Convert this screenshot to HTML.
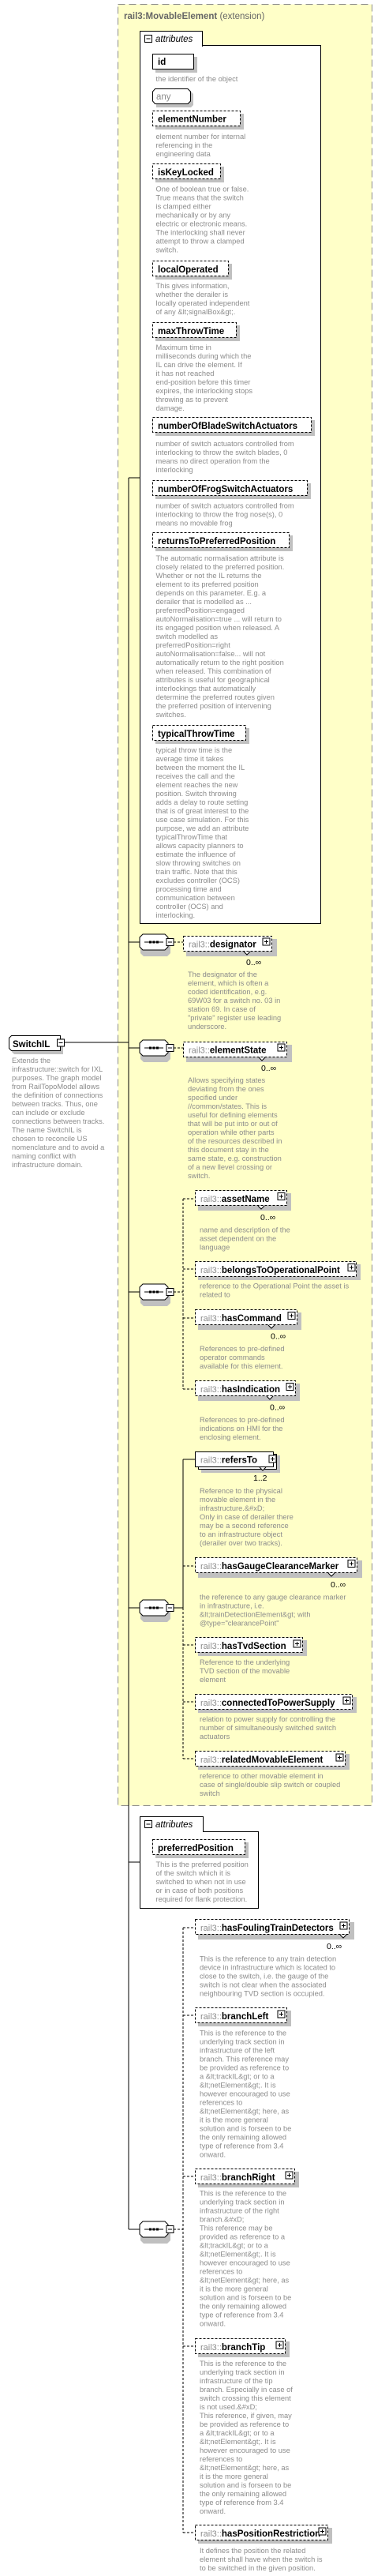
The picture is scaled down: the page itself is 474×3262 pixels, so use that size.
<!DOCTYPE html>
<html><head><meta charset="utf-8"><style>
html,body{margin:0;padding:0;background:#fff;}
svg{display:block;font-family:"Liberation Sans",sans-serif;}
.d{font-size:9.3px;fill:#8c8c8c;}
.n{font-size:11.5px;font-weight:bold;fill:#000;}
.p{font-size:11px;fill:#8c8c8c;}
.c{font-size:10.5px;fill:#000;}
</style></head><body>
<svg width="474" height="3262" viewBox="0 0 474 3262" xmlns="http://www.w3.org/2000/svg">
<defs>
<g id="plus"><rect x="0" y="0" width="9" height="9" fill="#fff" stroke="#000" stroke-width="1"/><path d="M2 4.5H7M4.5 2V7" stroke="#000" stroke-width="1"/></g>
<g id="minus"><rect x="0" y="0" width="9" height="9" fill="#fff" stroke="#000" stroke-width="1"/><path d="M2 4.5H7" stroke="#000" stroke-width="1"/></g>
<g id="seq"><polygon points="5,-6 35,-6 39,-2 39,14 35,18 5,18 1,14 1,-2" fill="#c0c0c0"/><polygon points="4,-10 32,-10 36,-6 36,6 32,10 4,10 0,6 0,-6" fill="#fff" stroke="#000"/><path d="M6 0H30" stroke="#000"/><rect x="12" y="-1.5" width="3" height="3"/><rect x="16.5" y="-1.5" width="3" height="3"/><rect x="21" y="-1.5" width="3" height="3"/></g>
</defs>

<rect x="149.5" y="5.5" width="322" height="2281" fill="#ffffc8" stroke="#8c8c8c" stroke-dasharray="9,5"/>
<text x="157" y="24" style="font-size:11.5px;font-weight:bold;fill:#666">rail3:MovableElement <tspan style="font-weight:normal">(extension)</tspan></text>

<path d="M80 1320H163M163 605V2823M163 605H178M163 1193H177M163 1327H177M163 1636H177M163 2036H177M163 2358H178M163 2823H177" stroke="#000" fill="none"/>

<rect x="177.5" y="57.5" width="229" height="1112" fill="#fff" stroke="#000"/>
<rect x="177.5" y="39.5" width="79" height="19" fill="#fff" stroke="#000"/>
<rect x="178" y="57" width="78" height="2" fill="#fff"/>
<use href="#minus" x="183.5" y="44.5"/>
<text x="197" y="53" style="font-size:11.5px;font-style:italic;fill:#000">attributes</text>

<rect x="197" y="72" width="53" height="20" fill="#c0c0c0"/>
<rect x="193.5" y="68.5" width="52" height="19" fill="#fff" stroke="#000"/>
<text x="200" y="82" class="n">id</text>
<text class="d" x="197.5" y="103">the identifier of the object</text>
<polygon points="198,116 242,116 245,119 245,133 242,136 198,136" fill="#c0c0c0"/>
<polygon points="196.5,112.5 238,112.5 241.5,116 241.5,128 238,131.5 196.5,131.5 193.5,128 193.5,116" fill="#fff" stroke="#000"/>
<text x="198" y="126" style="font-size:11.5px;fill:#8c8c8c">any</text>

<g>
<rect x="197" y="144" width="112" height="20" fill="#c0c0c0"/><rect x="193.5" y="140.5" width="111" height="19" fill="#fff" stroke="#000" stroke-dasharray="3,2"/><text x="200" y="154.5" class="n">elementNumber</text>
<text class="d" x="197.5" y="176"><tspan x="197.5">element number for internal</tspan><tspan x="197.5" dy="11">referencing in the</tspan><tspan x="197.5" dy="11">engineering data</tspan></text>

<rect x="197" y="211" width="87" height="20" fill="#c0c0c0"/><rect x="193.5" y="207.5" width="86" height="19" fill="#fff" stroke="#000" stroke-dasharray="3,2"/><text x="200" y="222" class="n">isKeyLocked</text>
<text class="d" x="197.5" y="242.5"><tspan x="197.5">One of boolean true or false.</tspan><tspan x="197.5" dy="11">True means that the switch</tspan><tspan x="197.5" dy="11">is clamped either</tspan><tspan x="197.5" dy="11">mechanically or by any</tspan><tspan x="197.5" dy="11">electric or electronic means.</tspan><tspan x="197.5" dy="11">The interlocking shall never</tspan><tspan x="197.5" dy="11">attempt to throw a clamped</tspan><tspan x="197.5" dy="11">switch.</tspan></text>

<rect x="197" y="334" width="97" height="20" fill="#c0c0c0"/><rect x="193.5" y="330.5" width="96" height="19" fill="#fff" stroke="#000" stroke-dasharray="3,2"/><text x="200" y="345" class="n">localOperated</text>
<text class="d" x="197.5" y="365"><tspan x="197.5">This gives information,</tspan><tspan x="197.5" dy="11">whether the derailer is</tspan><tspan x="197.5" dy="11">locally operated independent</tspan><tspan x="197.5" dy="11">of any &amp;lt;signalBox&amp;gt;.</tspan></text>

<rect x="197" y="412" width="107" height="20" fill="#c0c0c0"/><rect x="193.5" y="408.5" width="106" height="19" fill="#fff" stroke="#000" stroke-dasharray="3,2"/><text x="200" y="423" class="n">maxThrowTime</text>
<text class="d" x="197.5" y="443"><tspan x="197.5">Maximum time in</tspan><tspan x="197.5" dy="11">milliseconds during which the</tspan><tspan x="197.5" dy="11">IL can drive the element. If</tspan><tspan x="197.5" dy="11">it has not reached</tspan><tspan x="197.5" dy="11">end-position before this timer</tspan><tspan x="197.5" dy="11">expires, the interlocking stops</tspan><tspan x="197.5" dy="11">throwing as to prevent</tspan><tspan x="197.5" dy="11">damage.</tspan></text>

<rect x="197" y="532" width="202" height="20" fill="#c0c0c0"/><rect x="193.5" y="528.5" width="201" height="19" fill="#fff" stroke="#000" stroke-dasharray="3,2"/><text x="200" y="543" class="n">numberOfBladeSwitchActuators</text>
<text class="d" x="197.5" y="565"><tspan x="197.5">number of switch actuators controlled from</tspan><tspan x="197.5" dy="11">interlocking to throw the switch blades, 0</tspan><tspan x="197.5" dy="11">means no direct operation from the</tspan><tspan x="197.5" dy="11">interlocking</tspan></text>

<rect x="197" y="612" width="197" height="20" fill="#c0c0c0"/><rect x="193.5" y="608.5" width="196" height="19" fill="#fff" stroke="#000" stroke-dasharray="3,2"/><text x="200" y="623" class="n">numberOfFrogSwitchActuators</text>
<text class="d" x="197.5" y="643.5"><tspan x="197.5">number of switch actuators controlled from</tspan><tspan x="197.5" dy="11">interlocking to throw the frog nose(s), 0</tspan><tspan x="197.5" dy="11">means no movable frog</tspan></text>

<rect x="197" y="678" width="174" height="20" fill="#c0c0c0"/><rect x="193.5" y="674.5" width="173" height="19" fill="#fff" stroke="#000" stroke-dasharray="3,2"/><text x="200" y="689" class="n">returnsToPreferredPosition</text>
<text class="d" x="197.5" y="710"><tspan x="197.5">The automatic normalisation attribute is</tspan><tspan x="197.5" dy="11">closely related to the preferred position.</tspan><tspan x="197.5" dy="11">Whether or not the IL returns the</tspan><tspan x="197.5" dy="11">element to its preferred position</tspan><tspan x="197.5" dy="11">depends on this parameter. E.g. a</tspan><tspan x="197.5" dy="11">derailer that is modelled as ...</tspan><tspan x="197.5" dy="11">preferredPosition=engaged</tspan><tspan x="197.5" dy="11">autoNormalisation=true ... will return to</tspan><tspan x="197.5" dy="11">its engaged position when released. A</tspan><tspan x="197.5" dy="11">switch modelled as</tspan><tspan x="197.5" dy="11">preferredPosition=right</tspan><tspan x="197.5" dy="11">autoNormalisation=false... will not</tspan><tspan x="197.5" dy="11">automatically return to the right position</tspan><tspan x="197.5" dy="11">when released. This combination of</tspan><tspan x="197.5" dy="11">attributes is useful for geographical</tspan><tspan x="197.5" dy="11">interlockings that automatically</tspan><tspan x="197.5" dy="11">determine the preferred routes given</tspan><tspan x="197.5" dy="11">the preferred position of intervening</tspan><tspan x="197.5" dy="11">switches.</tspan></text>

<rect x="197" y="922" width="119" height="20" fill="#c0c0c0"/><rect x="193.5" y="918.5" width="118" height="19" fill="#fff" stroke="#000" stroke-dasharray="3,2"/><text x="200" y="933" class="n">typicalThrowTime</text>
<text class="d" x="197.5" y="953"><tspan x="197.5">typical throw time is the</tspan><tspan x="197.5" dy="11">average time it takes</tspan><tspan x="197.5" dy="11">between the moment the IL</tspan><tspan x="197.5" dy="11">receives the call and the</tspan><tspan x="197.5" dy="11">element reaches the new</tspan><tspan x="197.5" dy="11">position. Switch throwing</tspan><tspan x="197.5" dy="11">adds a delay to route setting</tspan><tspan x="197.5" dy="11">that is of great interest to the</tspan><tspan x="197.5" dy="11">use case simulation. For this</tspan><tspan x="197.5" dy="11">purpose, we add an attribute</tspan><tspan x="197.5" dy="11">typicalThrowTime that</tspan><tspan x="197.5" dy="11">allows capacity planners to</tspan><tspan x="197.5" dy="11">estimate the influence of</tspan><tspan x="197.5" dy="11">slow throwing switches on</tspan><tspan x="197.5" dy="11">train traffic. Note that this</tspan><tspan x="197.5" dy="11">excludes controller (OCS)</tspan><tspan x="197.5" dy="11">processing time and</tspan><tspan x="197.5" dy="11">communication between</tspan><tspan x="197.5" dy="11">controller (OCS) and</tspan><tspan x="197.5" dy="11">interlocking.</tspan></text>
</g>

<polygon points="18,1315 80,1315 80,1335 18,1335 15,1332 15,1318" fill="#c0c0c0"/>
<polygon points="14.5,1311.5 76.5,1311.5 76.5,1330.5 14.5,1330.5 11.5,1327.5 11.5,1314.5" fill="#fff" stroke="#000"/>
<text x="16" y="1326" class="n">SwitchIL</text>
<use href="#minus" x="72.5" y="1316"/>
<text class="d" x="15" y="1346"><tspan x="15">Extends the</tspan><tspan x="15" dy="11">infrastructure::switch for IXL</tspan><tspan x="15" dy="11">purposes. The graph model</tspan><tspan x="15" dy="11">from RailTopoModel allows</tspan><tspan x="15" dy="11">the definition of connections</tspan><tspan x="15" dy="11">between tracks. Thus, one</tspan><tspan x="15" dy="11">can include or exclude</tspan><tspan x="15" dy="11">connections between tracks.</tspan><tspan x="15" dy="11">The name SwitchIL is</tspan><tspan x="15" dy="11">chosen to reconcile US</tspan><tspan x="15" dy="11">nomenclature and to avoid a</tspan><tspan x="15" dy="11">naming conflict with</tspan><tspan x="15" dy="11">infrastructure domain.</tspan></text>

<use href="#seq" x="177" y="1193"/><use href="#minus" x="211" y="1188.5"/>
<use href="#seq" x="177" y="1327"/><use href="#minus" x="211" y="1322.5"/>
<use href="#seq" x="177" y="1636"/><use href="#minus" x="211" y="1631.5"/>
<use href="#seq" x="177" y="2036"/><use href="#minus" x="211" y="2031.5"/>
<use href="#seq" x="177" y="2823"/><use href="#minus" x="211" y="2818.5"/>

<g stroke="#000" fill="none" stroke-dasharray="3,2">
<path d="M220 1193H232M220 1327H232"/>
<path d="M220 1636H232M232 1518V1759M232 1518H247M232 1607H247M232 1669H247M232 1759H247"/>
<path d="M232 2036V2227M232 1983H247M232 2083H247M232 2155H247M232 2227H247"/>
<path d="M220 2823H232M232 2441V3207M232 2441H247M232 2552H247M232 2756H247M232 2971H247M232 3207H247"/>
</g>
<path d="M220 2036H232M232 1848V2036M232 1848H247" stroke="#000" fill="none"/>

<rect x="177.5" y="2319.5" width="150" height="97" fill="#fff" stroke="#000"/>
<rect x="177.5" y="2300.5" width="80" height="19" fill="#fff" stroke="#000"/>
<rect x="178" y="2319" width="79" height="2" fill="#fff"/>
<use href="#minus" x="183.5" y="2305.5"/>
<text x="197" y="2314" style="font-size:11.5px;font-style:italic;fill:#000">attributes</text>
<rect x="197" y="2333" width="118" height="20" fill="#c0c0c0"/><rect x="193.5" y="2329.5" width="117" height="19" fill="#fff" stroke="#000" stroke-dasharray="3,2"/><text x="200" y="2344" class="n">preferredPosition</text>
<text class="d" x="197.5" y="2364"><tspan x="197.5">This is the preferred position</tspan><tspan x="197.5" dy="11">of the switch which it is</tspan><tspan x="197.5" dy="11">switched to when not in use</tspan><tspan x="197.5" dy="11">or in case of both positions</tspan><tspan x="197.5" dy="11">required for flank protection.</tspan></text>

<g>
<rect x="236" y="1189" width="115" height="22" fill="#c0c0c0"/><rect x="232.5" y="1185.5" width="112" height="19" fill="#fff" stroke="#000" stroke-dasharray="3,2"/><path d="M309 1205l4 4 4-4" fill="#fff" stroke="#000"/><text x="239" y="1199.5"><tspan class="p">rail3::</tspan><tspan class="n">designator</tspan></text><use href="#plus" x="333" y="1188"/>
<text class="c" x="312" y="1222">0..∞</text>
<text class="d" x="238" y="1237"><tspan x="238">The designator of the</tspan><tspan x="238" dy="11">element, which is often a</tspan><tspan x="238" dy="11">coded identification, e.g.</tspan><tspan x="238" dy="11">69W03 for a switch no. 03 in</tspan><tspan x="238" dy="11">station 69. In case of</tspan><tspan x="238" dy="11">"private" register use leading</tspan><tspan x="238" dy="11">underscore.</tspan></text>
<rect x="236" y="1323" width="134" height="22" fill="#c0c0c0"/><rect x="232.5" y="1319.5" width="131" height="19" fill="#fff" stroke="#000" stroke-dasharray="3,2"/><path d="M328 1339l4 4 4-4" fill="#fff" stroke="#000"/><text x="239" y="1333.5"><tspan class="p">rail3::</tspan><tspan class="n">elementState</tspan></text><use href="#plus" x="352" y="1322"/>
<text class="c" x="331" y="1356">0..∞</text>
<text class="d" x="238" y="1371"><tspan x="238">Allows specifying states</tspan><tspan x="238" dy="11">deviating from the ones</tspan><tspan x="238" dy="11">specified under</tspan><tspan x="238" dy="11">//common/states. This is</tspan><tspan x="238" dy="11">useful for defining elements</tspan><tspan x="238" dy="11">that will be put into or out of</tspan><tspan x="238" dy="11">operation while other parts</tspan><tspan x="238" dy="11">of the resources described in</tspan><tspan x="238" dy="11">this document stay in the</tspan><tspan x="238" dy="11">same state, e.g. construction</tspan><tspan x="238" dy="11">of a new llevel crossing or</tspan><tspan x="238" dy="11">switch.</tspan></text>

<rect x="251" y="1511" width="118" height="22" fill="#c0c0c0"/><rect x="247.5" y="1507.5" width="116" height="19" fill="#fff" stroke="#000" stroke-dasharray="3,2"/><path d="M327 1527l4 4 4-4" fill="#fff" stroke="#000"/><text x="254" y="1522"><tspan class="p">rail3::</tspan><tspan class="n">assetName</tspan></text><use href="#plus" x="352" y="1510.5"/>
<text class="c" x="330" y="1545">0..∞</text>
<text class="d" x="253" y="1560.5"><tspan x="253">name and description of the</tspan><tspan x="253" dy="11">asset dependent on the</tspan><tspan x="253" dy="11">language</tspan></text>
<rect x="251" y="1601" width="206" height="20" fill="#c0c0c0"/><rect x="247.5" y="1597.5" width="204" height="19" fill="#fff" stroke="#000" stroke-dasharray="3,2"/><text x="254" y="1612"><tspan class="p">rail3::</tspan><tspan class="n">belongsToOperationalPoint</tspan></text><use href="#plus" x="441" y="1600.5"/>
<text class="d" x="253" y="1631.5"><tspan x="253">reference to the Operational Point the asset is</tspan><tspan x="253" dy="11">related to</tspan></text>
<rect x="251" y="1662" width="131" height="22" fill="#c0c0c0"/><rect x="247.5" y="1658.5" width="129" height="19" fill="#fff" stroke="#000" stroke-dasharray="3,2"/><path d="M340 1678l4 4 4-4" fill="#fff" stroke="#000"/><text x="254" y="1673"><tspan class="p">rail3::</tspan><tspan class="n">hasCommand</tspan></text><use href="#plus" x="365" y="1661.5"/>
<text class="c" x="343" y="1695.5">0..∞</text>
<text class="d" x="253" y="1711"><tspan x="253">References to pre-defined</tspan><tspan x="253" dy="11">operator commands</tspan><tspan x="253" dy="11">available for this element.</tspan></text>
<rect x="251" y="1752" width="129" height="22" fill="#c0c0c0"/><rect x="247.5" y="1748.5" width="127" height="19" fill="#fff" stroke="#000" stroke-dasharray="3,2"/><path d="M338 1768l4 4 4-4" fill="#fff" stroke="#000"/><text x="254" y="1763"><tspan class="p">rail3::</tspan><tspan class="n">hasIndication</tspan></text><use href="#plus" x="363" y="1751.5"/>
<text class="c" x="342" y="1785.5">0..∞</text>
<text class="d" x="253" y="1801"><tspan x="253">References to pre-defined</tspan><tspan x="253" dy="11">indications on HMI for the</tspan><tspan x="253" dy="11">enclosing element.</tspan></text>
<rect x="255" y="1843" width="100" height="22" fill="#c0c0c0"/><rect x="251.5" y="1841.5" width="99" height="19" fill="#fff" stroke="#000"/><rect x="247.5" y="1838.5" width="99" height="19" fill="#fff" stroke="#000"/><path d="M329 1858l4 4 4-4" fill="#fff" stroke="#000"/><text x="254" y="1852.5"><tspan class="p">rail3::</tspan><tspan class="n">refersTo</tspan></text><use href="#plus" x="341" y="1843"/>
<text class="c" x="321" y="1875">1..2</text>
<text class="d" x="253" y="1891"><tspan x="253">Reference to the physical</tspan><tspan x="253" dy="11">movable element in the</tspan><tspan x="253" dy="11">infrastructure.&amp;#xD;</tspan><tspan x="253" dy="11">Only in case of derailer there</tspan><tspan x="253" dy="11">may be a second reference</tspan><tspan x="253" dy="11">to an infrastructure object</tspan><tspan x="253" dy="11">(derailer over two tracks).</tspan></text>
<rect x="251" y="1976" width="208" height="22" fill="#c0c0c0"/><rect x="247.5" y="1972.5" width="205" height="19" fill="#fff" stroke="#000" stroke-dasharray="3,2"/><path d="M416 1992l4 4 4-4" fill="#fff" stroke="#000"/><text x="254" y="1987"><tspan class="p">rail3::</tspan><tspan class="n">hasGaugeClearanceMarker</tspan></text><use href="#plus" x="441" y="1975.5"/>
<text class="c" x="419" y="2010">0..∞</text>
<text class="d" x="253" y="2025.5"><tspan x="253">the reference to any gauge clearance marker</tspan><tspan x="253" dy="11">in infrastructure, i.e.</tspan><tspan x="253" dy="11">&amp;lt;trainDetectionElement&amp;gt; with</tspan><tspan x="253" dy="11">@type="clearancePoint"</tspan></text>
<rect x="251" y="2077" width="138" height="20" fill="#c0c0c0"/><rect x="247.5" y="2073.5" width="136" height="19" fill="#fff" stroke="#000" stroke-dasharray="3,2"/><text x="254" y="2088"><tspan class="p">rail3::</tspan><tspan class="n">hasTvdSection</tspan></text><use href="#plus" x="372" y="2077"/>
<text class="d" x="253" y="2108"><tspan x="253">Reference to the underlying</tspan><tspan x="253" dy="11">TVD section of the movable</tspan><tspan x="253" dy="11">element</tspan></text>
<rect x="251" y="2149" width="201" height="20" fill="#c0c0c0"/><rect x="247.5" y="2145.5" width="199" height="19" fill="#fff" stroke="#000" stroke-dasharray="3,2"/><text x="254" y="2160"><tspan class="p">rail3::</tspan><tspan class="n">connectedToPowerSupply</tspan></text><use href="#plus" x="435" y="2149"/>
<text class="d" x="253" y="2180"><tspan x="253">relation to power supply for controlling the</tspan><tspan x="253" dy="11">number of simultaneously switched switch</tspan><tspan x="253" dy="11">actuators</tspan></text>
<rect x="251" y="2221" width="192" height="20" fill="#c0c0c0"/><rect x="247.5" y="2217.5" width="190" height="19" fill="#fff" stroke="#000" stroke-dasharray="3,2"/><text x="254" y="2232"><tspan class="p">rail3::</tspan><tspan class="n">relatedMovableElement</tspan></text><use href="#plus" x="426" y="2221"/>
<text class="d" x="253" y="2252"><tspan x="253">reference to other movable element in</tspan><tspan x="253" dy="11">case of single/double slip switch or coupled</tspan><tspan x="253" dy="11">switch</tspan></text>

<rect x="251" y="2434" width="198" height="22" fill="#c0c0c0"/><rect x="247.5" y="2430.5" width="195" height="19" fill="#fff" stroke="#000" stroke-dasharray="3,2"/><path d="M431 2450l4 4 4-4" fill="#fff" stroke="#000"/><text x="254" y="2445"><tspan class="p">rail3::</tspan><tspan class="n">hasFoulingTrainDetectors</tspan></text><use href="#plus" x="431" y="2434"/>
<text class="c" x="414" y="2468">0..∞</text>
<text class="d" x="253" y="2483.5"><tspan x="253">This is the reference to any train detection</tspan><tspan x="253" dy="11">device in infrastructure which is located to</tspan><tspan x="253" dy="11">close to the switch, i.e. the gauge of the</tspan><tspan x="253" dy="11">switch is not clear when the associated</tspan><tspan x="253" dy="11">neighbouring TVD section is occupied.</tspan></text>
<rect x="251" y="2546" width="118" height="20" fill="#c0c0c0"/><rect x="247.5" y="2542.5" width="116" height="19" fill="#fff" stroke="#000" stroke-dasharray="3,2"/><text x="254" y="2557"><tspan class="p">rail3::</tspan><tspan class="n">branchLeft</tspan></text><use href="#plus" x="352" y="2546"/>
<text class="d" x="253" y="2577.5"><tspan x="253">This is the reference to the</tspan><tspan x="253" dy="11">underlying track section in</tspan><tspan x="253" dy="11">infrastructure of the left</tspan><tspan x="253" dy="11">branch. This reference may</tspan><tspan x="253" dy="11">be provided as reference to</tspan><tspan x="253" dy="11">a &amp;lt;trackIL&amp;gt; or to a</tspan><tspan x="253" dy="11">&amp;lt;netElement&amp;gt;. It is</tspan><tspan x="253" dy="11">however encouraged to use</tspan><tspan x="253" dy="11">references to</tspan><tspan x="253" dy="11">&amp;lt;netElement&amp;gt; here, as</tspan><tspan x="253" dy="11">it is the more general</tspan><tspan x="253" dy="11">solution and is forseen to be</tspan><tspan x="253" dy="11">the only remaining allowed</tspan><tspan x="253" dy="11">type of reference from 3.4</tspan><tspan x="253" dy="11">onward.</tspan></text>
<rect x="251" y="2750" width="128" height="20" fill="#c0c0c0"/><rect x="247.5" y="2746.5" width="126" height="19" fill="#fff" stroke="#000" stroke-dasharray="3,2"/><text x="254" y="2761"><tspan class="p">rail3::</tspan><tspan class="n">branchRight</tspan></text><use href="#plus" x="362" y="2750"/>
<text class="d" x="253" y="2780.5"><tspan x="253">This is the reference to the</tspan><tspan x="253" dy="11">underlying track section in</tspan><tspan x="253" dy="11">infrastructure of the right</tspan><tspan x="253" dy="11">branch.&amp;#xD;</tspan><tspan x="253" dy="11">This reference may be</tspan><tspan x="253" dy="11">provided as reference to a</tspan><tspan x="253" dy="11">&amp;lt;trackIL&amp;gt; or to a</tspan><tspan x="253" dy="11">&amp;lt;netElement&amp;gt;. It is</tspan><tspan x="253" dy="11">however encouraged to use</tspan><tspan x="253" dy="11">references to</tspan><tspan x="253" dy="11">&amp;lt;netElement&amp;gt; here, as</tspan><tspan x="253" dy="11">it is the more general</tspan><tspan x="253" dy="11">solution and is forseen to be</tspan><tspan x="253" dy="11">the only remaining allowed</tspan><tspan x="253" dy="11">type of reference from 3.4</tspan><tspan x="253" dy="11">onward.</tspan></text>
<rect x="251" y="2965" width="116" height="20" fill="#c0c0c0"/><rect x="247.5" y="2961.5" width="114" height="19" fill="#fff" stroke="#000" stroke-dasharray="3,2"/><text x="254" y="2976"><tspan class="p">rail3::</tspan><tspan class="n">branchTip</tspan></text><use href="#plus" x="350" y="2965"/>
<text class="d" x="253" y="2996"><tspan x="253">This is the reference to the</tspan><tspan x="253" dy="11">underlying track section in</tspan><tspan x="253" dy="11">infrastructure of the tip</tspan><tspan x="253" dy="11">branch. Especially in case of</tspan><tspan x="253" dy="11">switch crossing this element</tspan><tspan x="253" dy="11">is not used.&amp;#xD;</tspan><tspan x="253" dy="11">This reference, if given, may</tspan><tspan x="253" dy="11">be provided as reference to</tspan><tspan x="253" dy="11">a &amp;lt;trackIL&amp;gt; or to a</tspan><tspan x="253" dy="11">&amp;lt;netElement&amp;gt;. It is</tspan><tspan x="253" dy="11">however encouraged to use</tspan><tspan x="253" dy="11">references to</tspan><tspan x="253" dy="11">&amp;lt;netElement&amp;gt; here, as</tspan><tspan x="253" dy="11">it is the more general</tspan><tspan x="253" dy="11">solution and is forseen to be</tspan><tspan x="253" dy="11">the only remaining allowed</tspan><tspan x="253" dy="11">type of reference from 3.4</tspan><tspan x="253" dy="11">onward.</tspan></text>
<rect x="251" y="3201" width="170" height="20" fill="#c0c0c0"/><rect x="247.5" y="3197.5" width="168" height="19" fill="#fff" stroke="#000" stroke-dasharray="3,2"/><text x="254" y="3212"><tspan class="p">rail3::</tspan><tspan class="n">hasPositionRestriction</tspan></text><use href="#plus" x="404" y="3201"/>
<text class="d" x="253" y="3233"><tspan x="253">It defines the position the related</tspan><tspan x="253" dy="11">element shall have when the switch is</tspan><tspan x="253" dy="11">to be switched in the given position.</tspan></text>
</g>
</svg>
</body></html>
